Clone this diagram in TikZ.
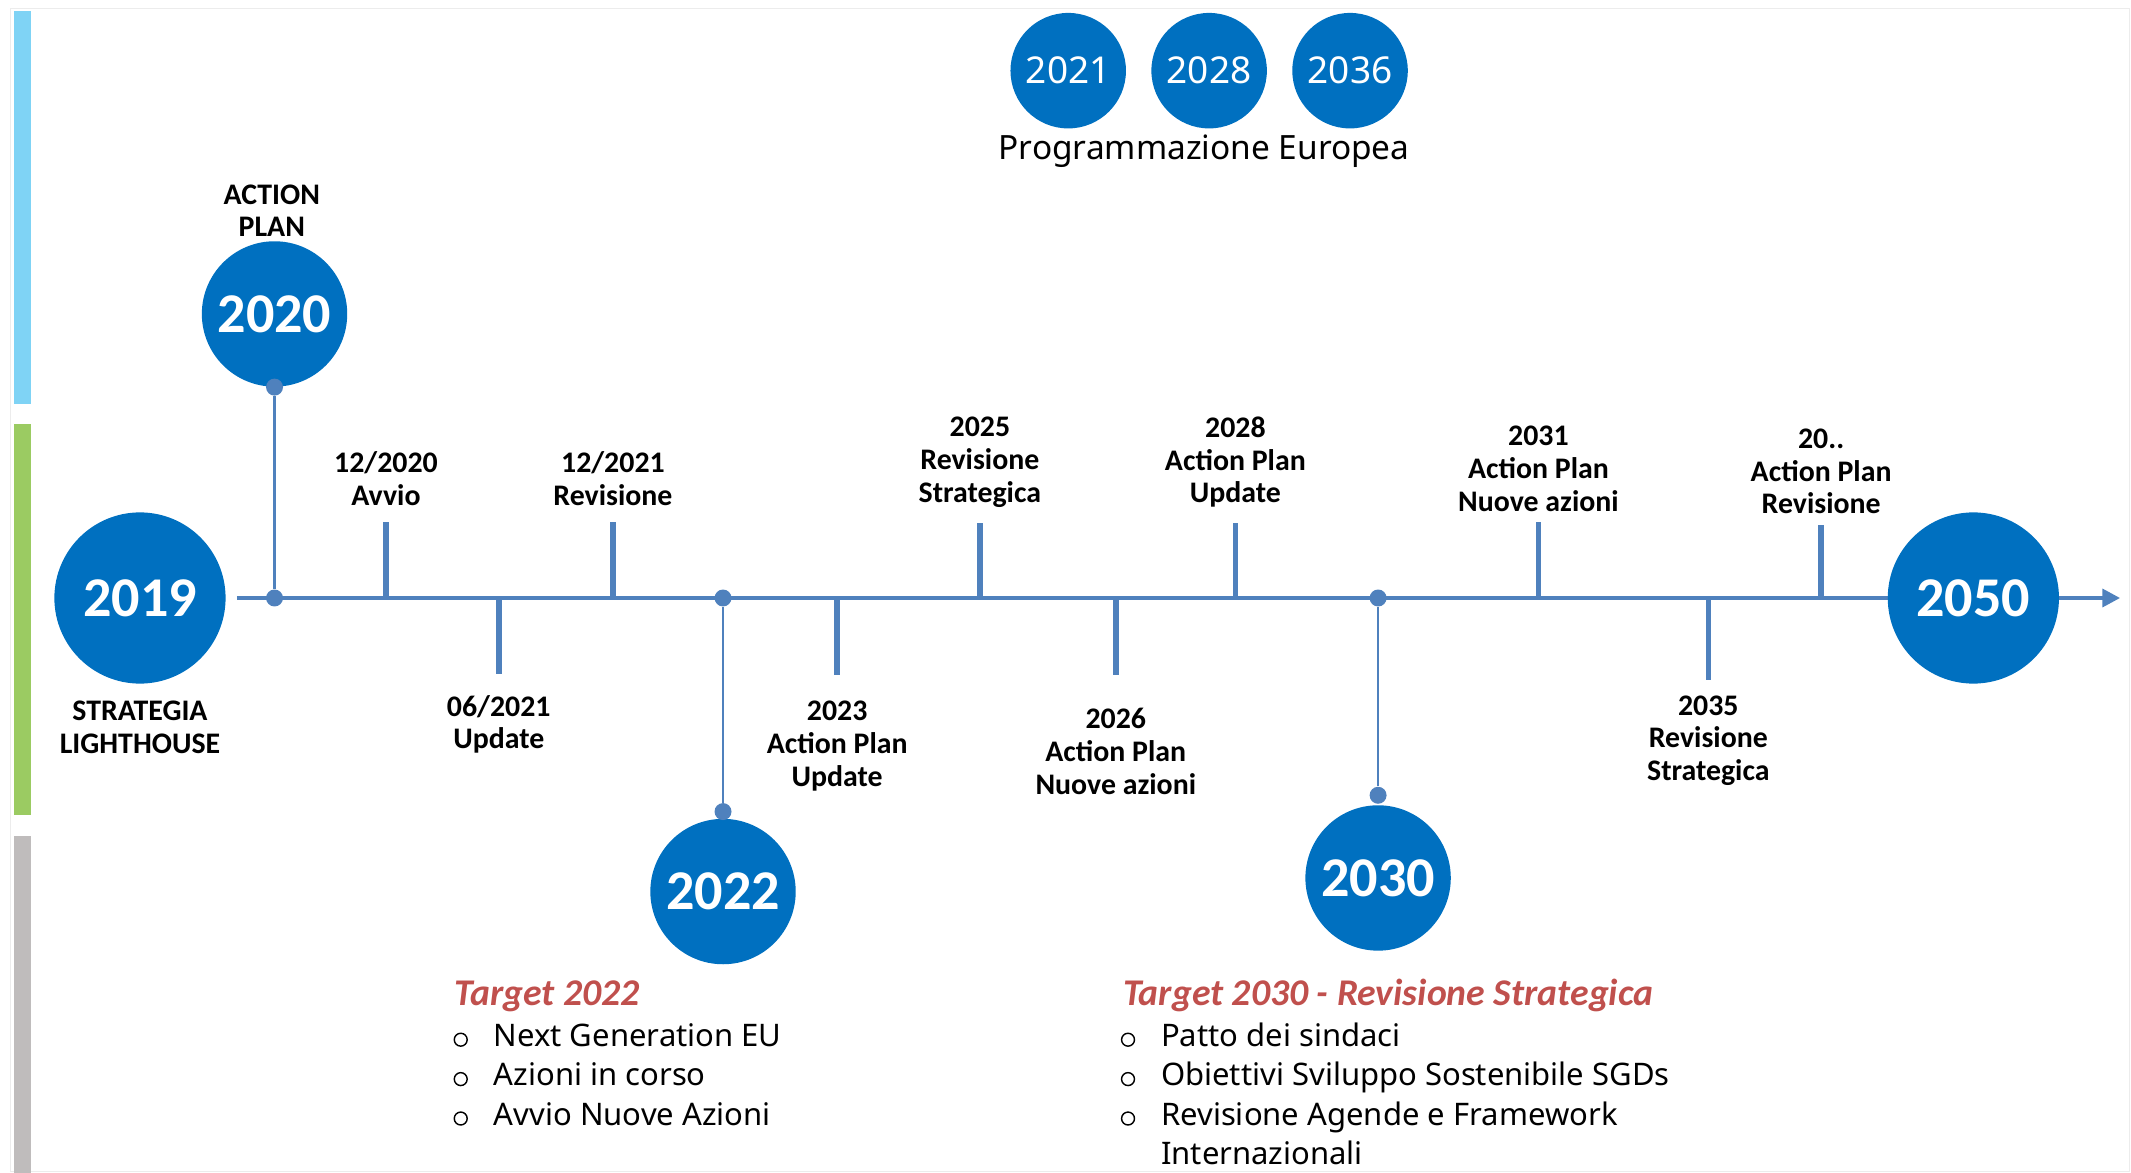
\documentclass[tikz,border=0pt]{standalone}
\usepackage{fontspec}
\setmainfont{Carlito}
\newfontfamily\segoe{Noto Sans}
\usetikzlibrary{positioning, arrows.meta}
\definecolor{circblue}{HTML}{0070C0}
\definecolor{lineblue}{HTML}{4F81BD}
\definecolor{targetred}{HTML}{C0504D}
\definecolor{barblue}{HTML}{7FD3F5}
\definecolor{bargreen}{HTML}{9BCB62}
\definecolor{bargrey}{HTML}{BFBCBC}

\begin{document}
\begin{tikzpicture}[
        x=0.02cm, y=-0.02cm,
        bigyear/.style={circle, fill=circblue, text=white, inner sep=0pt, minimum size=2.52cm,
            font=\fontsize{23.5}{26}\selectfont\bfseries},
        midyear/.style={bigyear, minimum size=2.14cm},
        euyear/.style={circle, fill=circblue, text=white, inner sep=0pt, minimum size=1.7cm,
            font=\segoe\fontsize{15.5}{18}\selectfont},
        evlab/.style={font=\fontsize{12.5}{13.7}\selectfont\bfseries, align=center, inner sep=0pt},
        tline/.style={lineblue, line width=1.7pt},
        evtick/.style={lineblue, line width=2.3pt},
        stem/.style={lineblue, line width=1.1pt},
        dot/.style={circle, fill=lineblue, inner sep=0pt, minimum size=0.25cm},
        tgtitle/.style={font=\fontsize{15.8}{17}\selectfont\bfseries\itshape, text=targetred,
            anchor=base west, inner sep=0pt},
        tgitem/.style={font=\segoe\fontsize{13}{16}\selectfont, anchor=base west, inner sep=0pt},
        obul/.style={circle, draw, line width=0.6pt, inner sep=0pt, minimum size=0.19cm},
    ]
    \useasboundingbox (0,0) rectangle (1568,863);

    % frame and side bars
    \draw[gray!15] (8,6) rectangle (1567,862);
    \fill[barblue] (10,8) rectangle (23,297);
    \fill[bargreen] (10,312) rectangle (23,600);
    \fill[bargrey] (10,615) rectangle (23,863);

    % programmazione europea
    \node[euyear] (c2021) at (786,52) {2021};
    \node[euyear, right=0.36cm of c2021] (c2028) {2028};
    \node[euyear, right=0.36cm of c2028] (c2036) {2036};
    \node[font=\segoe\fontsize{14}{16}\selectfont, inner sep=0pt] (prog) at (886,111)
        {Programmazione Europea};

    % timeline
    \coordinate (tl) at (0,440);
    \node[bigyear] (c2019) at (103,440) {2019};
    \node[evlab] (s2019) at (103,535) {STRATEGIA\\LIGHTHOUSE};
    \draw[tline, -{Triangle[length=0.26cm, width=0.26cm]}] ([xshift=0.16cm]c2019.east)
        -- (1560,440) coordinate (tlend);
    \node[bigyear] (c2050) at (1452,440) {2050};

    % big milestones
    \node[midyear] (c2020) at (202,231) {2020};
    \node[evlab] (a2020) at (200,155) {ACTION\\PLAN};
    \node[dot] (d2020a) at (c2020.south) {};
    \node[dot] (d2020b) at (c2020.south |- tl) {};
    \draw[stem] (d2020a) -- (d2020b);

    \node[midyear] (c2022) at (532,656) {2022};
    \node[dot] (d2022a) at ([yshift=0.1cm]c2022.north) {};
    \node[dot] (d2022b) at (c2022.north |- tl) {};
    \draw[stem] (d2022a) -- (d2022b);

    \node[midyear] (c2030) at (1014,646) {2030};
    \node[dot] (d2030a) at ([yshift=0.14cm]c2030.north) {};
    \node[dot] (d2030b) at (c2030.north |- tl) {};
    \draw[stem] (d2030a) -- (d2030b);

    % events on the line
    \node[evlab] (e1) at (284,352) {12/2020\\Avvio};
    \draw[evtick] (e1 |- tl) -- ++(0,-56);
    \node[evlab] (e2) at (367,533) {06/2021\\Update};
    \draw[evtick] (e2 |- tl) -- ++(0,56);
    \node[evlab] (e3) at (451,352) {12/2021\\Revisione};
    \draw[evtick] (e3 |- tl) -- ++(0,-56);
    \node[evlab] (e4) at (616,549) {2023\\Action Plan\\Update};
    \draw[evtick] (e4 |- tl) -- ++(0,57);
    \node[evlab] (e5) at (721,340) {2025\\Revisione\\Strategica};
    \draw[evtick] (e5 |- tl) -- ++(0,-55);
    \node[evlab] (e6) at (821,553) {2026\\Action Plan\\Nuove azioni};
    \draw[evtick] (e6 |- tl) -- ++(0,57);
    \node[evlab] (e7) at (909,340) {2028\\Action Plan\\Update};
    \draw[evtick] (e7 |- tl) -- ++(0,-55);
    \node[evlab] (e8) at (1132,345) {2031\\Action Plan\\Nuove azioni};
    \draw[evtick] (e8 |- tl) -- ++(0,-56);
    \node[evlab] (e9) at (1257,545) {2035\\Revisione\\Strategica};
    \draw[evtick] (e9 |- tl) -- ++(0,60);
    \node[evlab] (e10) at (1340,347) {20..\\Action Plan\\Revisione};
    \draw[evtick] (e10 |- tl) -- ++(0,-54);

    % target 2022
    \node[tgtitle] (t2022) at (334,740) {Target 2022};
    \node[obul] (b1) at (339,765) {};
    \node[tgitem] (i1) at (363,770) {Next Generation EU};
    \node[obul] (b2) at (339,794) {};
    \node[tgitem] (i2) at (363,799) {Azioni in corso};
    \node[obul] (b3) at (339,823) {};
    \node[tgitem] (i3) at (363,828) {Avvio Nuove Azioni};

    % target 2030
    \node[tgtitle] (t2030) at (826,740) {Target 2030 - Revisione Strategica};
    \node[obul] (b4) at (830,765) {};
    \node[tgitem] (i4) at (854,770) {Patto dei sindaci};
    \node[obul] (b5) at (830,794) {};
    \node[tgitem] (i5) at (854,799) {Obiettivi Sviluppo Sostenibile SGDs};
    \node[obul] (b6) at (830,823) {};
    \node[tgitem] (i6) at (854,828) {Revisione Agende e Framework};
    \node[tgitem] (i7) at (854,857) {Internazionali};

\end{tikzpicture}
\end{document}
